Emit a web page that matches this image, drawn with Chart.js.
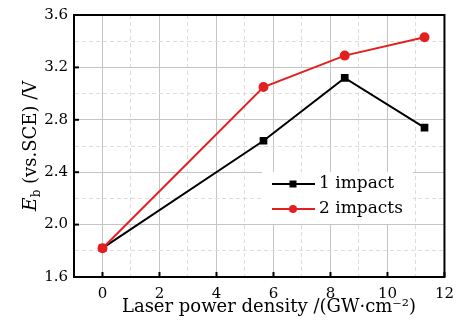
<!DOCTYPE html>
<html><head><meta charset="utf-8">
<script src="https://cdn.jsdelivr.net/npm/chart.js@4"></script>
<style>html,body{margin:0;padding:0;background:#fff}#wrap{width:462px;height:329px}</style>
</head><body><div id="wrap"><canvas id="c" width="462" height="329"></canvas></div>
<script>
const seriesNames = ['1 impact', '2 impacts'];
const powerDensity = [0, 5.65, 8.5, 11.3];
const ebOneImpact = [1.82, 2.64, 3.12, 2.74];
const ebTwoImpacts = [1.82, 3.05, 3.29, 3.43];
const xTickLabels = [0, 2, 4, 6, 8, 10, 12];
const yTickLabels = [1.6, 2.0, 2.4, 2.8, 3.2, 3.6];
const xTitle = 'Laser power density /(GW\u00b7cm\u207b\u00b2)';
const yTitleMain = 'E';
const yTitleSub = 'b';
const yTitleRest = ' (vs.SCE) /V';

const FONT = '"DejaVu Serif", serif';
const isMajorX = v => xTickLabels.some(t => Math.abs(t - v) < 1e-6);
const isMajorY = v => yTickLabels.some(t => Math.abs(t - v) < 1e-6);

const pts = ys => powerDensity.map((x, i) => ({x, y: ys[i]}));

const boxAndExtras = {
  id: 'boxAndExtras',
  afterDatasetsDraw(chart) {
    const {ctx} = chart;
    ctx.save();
    // legend
    ctx.fillStyle = '#fff';
    ctx.fillRect(262, 172, 151, 52);
    const rows = [chart.data.datasets[0], chart.data.datasets[1]];
    rows.forEach((ds, i) => {
      const y = 184 + i * 25;
      ctx.strokeStyle = ds.borderColor; ctx.lineWidth = 2;
      ctx.beginPath(); ctx.moveTo(272, y); ctx.lineTo(315, y); ctx.stroke();
      ctx.fillStyle = ds.pointBackgroundColor;
      if (ds.pointStyle === 'rect') { ctx.fillRect(293 - 3.5, y - 3.5, 7, 7); }
      else { ctx.beginPath(); ctx.arc(293, y, 4, 0, Math.PI * 2); ctx.fill(); }
      ctx.fillStyle = '#000';
      ctx.font = '17px ' + FONT;
      ctx.textBaseline = 'middle'; ctx.textAlign = 'left';
      ctx.fillText(ds.label, 319, y);
    });
    ctx.restore();
  },
  afterDraw(chart) {
    const {ctx, chartArea: a, scales} = chart;
    ctx.save();
    // inner ticks
    ctx.strokeStyle = '#000'; ctx.lineWidth = 2;
    xTickLabels.forEach(v => {
      const px = scales.x.getPixelForValue(v);
      ctx.beginPath(); ctx.moveTo(px, a.bottom); ctx.lineTo(px, a.bottom - 5); ctx.stroke();
    });
    yTickLabels.forEach(v => {
      const py = scales.y.getPixelForValue(v);
      ctx.beginPath(); ctx.moveTo(a.left, py); ctx.lineTo(a.left + 5, py); ctx.stroke();
    });
    // frame
    ctx.lineWidth = 2;
    ctx.strokeRect(a.left, a.top, a.right - a.left, a.bottom - a.top);
    // x title
    ctx.fillStyle = '#000';
    ctx.font = '18px ' + FONT;
    ctx.textAlign = 'center'; ctx.textBaseline = 'alphabetic';
    ctx.fillText(xTitle, 269, 312);
    // y title (rotated, italic E with subscript b)
    ctx.translate(36, 146);
    ctx.rotate(-Math.PI / 2);
    const fMain = 'italic 19px ' + FONT, fSub = '12px ' + FONT, fRest = '18px ' + FONT;
    ctx.font = fMain; const w1 = ctx.measureText(yTitleMain).width;
    ctx.font = fSub; const w2 = ctx.measureText(yTitleSub).width;
    ctx.font = fRest; const w3 = ctx.measureText(yTitleRest).width;
    let x0 = -(w1 + w2 + w3) / 2;
    ctx.textAlign = 'left'; ctx.textBaseline = 'alphabetic';
    ctx.font = fMain; ctx.fillText(yTitleMain, x0, 0); x0 += w1;
    ctx.font = fSub; ctx.fillText(yTitleSub, x0, 4); x0 += w2;
    ctx.font = fRest; ctx.fillText(yTitleRest, x0, 0);
    ctx.restore();
  }
};

new Chart(document.getElementById('c'), {
  type: 'line',
  data: {
    datasets: [
      {label: seriesNames[0], data: pts(ebOneImpact), borderColor: '#000', backgroundColor: '#000',
       pointBackgroundColor: '#000', pointBorderColor: '#000', pointStyle: 'rect', pointRadius: 4,
       borderWidth: 2, order: 1},
      {label: seriesNames[1], data: pts(ebTwoImpacts), borderColor: '#e3201f', backgroundColor: '#e3201f',
       pointBackgroundColor: '#e3201f', pointBorderColor: '#e3201f', pointStyle: 'circle', pointRadius: 4,
       borderWidth: 2, order: 0}
    ]
  },
  options: {
    responsive: false, animation: false, devicePixelRatio: 1,
    layout: {padding: {left: 0, top: 13, right: 13, bottom: 0}},
    plugins: {legend: {display: false}, tooltip: {enabled: false}},
    scales: {
      x: {
        type: 'linear', min: -1, max: 12,
        afterFit: s => { s.height = 52; },
        ticks: {stepSize: 1, autoSkip: false, maxRotation: 0, padding: 8, color: '#000',
          font: {family: FONT, size: 15},
          callback: v => isMajorX(v) ? String(v) : ''},
        grid: {drawTicks: false, lineWidth: 1, color: c => isMajorX(c.tick.value) ? '#c4c4c4' : '#dcdcdc'},
        border: {display: true, color: '#000', width: 2, dash: c => (c.tick && !isMajorX(c.tick.value)) ? [4, 3] : []}
      },
      y: {
        type: 'linear', min: 1.6, max: 3.6,
        afterFit: s => { s.width = 74; },
        ticks: {stepSize: 0.2, autoSkip: false, padding: 6, color: '#000',
          font: {family: FONT, size: 15},
          callback: v => isMajorY(v) ? v.toFixed(1) : ''},
        grid: {drawTicks: false, lineWidth: 1, color: c => isMajorY(c.tick.value) ? '#c4c4c4' : '#dcdcdc'},
        border: {display: true, color: '#000', width: 2, dash: c => (c.tick && !isMajorY(c.tick.value)) ? [4, 3] : []}
      }
    }
  },
  plugins: [boxAndExtras]
});
</script></body></html>
